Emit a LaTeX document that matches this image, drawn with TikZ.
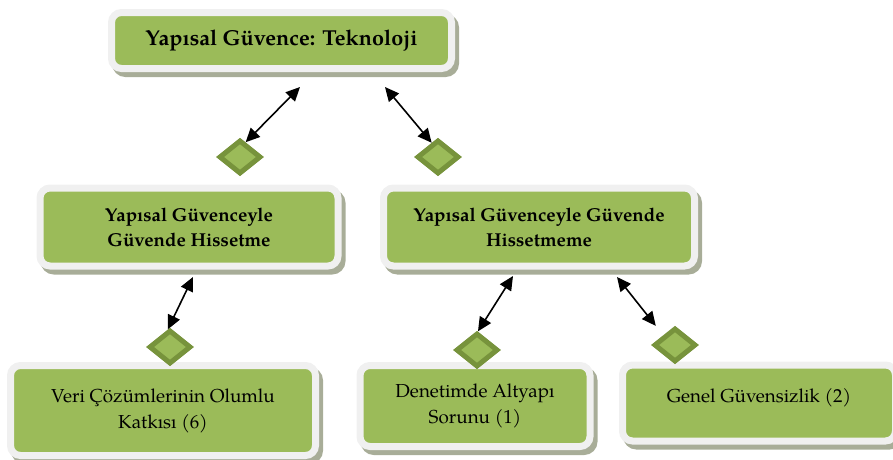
\documentclass[tikz,border=0pt]{standalone}
\usepackage{fontspec}
\setmainfont{texgyrepagella}[Extension=.otf,UprightFont=*-regular,BoldFont=*-bold,ItalicFont=*-italic,BoldItalicFont=*-bolditalic]
\usetikzlibrary{shapes.geometric,arrows.meta}
\definecolor{leaf}{HTML}{9BBB59}
\definecolor{leafdark}{HTML}{77933C}
\definecolor{framec}{HTML}{F0F0F0}
\definecolor{shade}{HTML}{A8AD98}
\begin{document}
\begin{tikzpicture}[x=1pt,y=-1pt,
  panel/.style={rectangle, rounded corners=10pt, fill=leaf, draw=framec,
    line width=7pt, inner sep=0pt, align=center, text=black,
    preaction={draw=shade, fill=shade, line width=7pt,
      transform canvas={xshift=4pt,yshift=-5pt}}},
  headtext/.style={font=\fontsize{21.6}{25}\selectfont\bfseries},
  midtext/.style={font=\fontsize{18.7}{25}\selectfont\bfseries},
  lowtext/.style={font=\fontsize{18.8}{26}\selectfont},
  gem/.style={diamond, fill=leaf, draw=leafdark, line width=5pt,
    minimum width=42pt, minimum height=34pt, inner sep=0pt},
  link/.style={>={Triangle[length=14pt,width=13pt]}, <->, line width=1.6pt, black}]
\useasboundingbox (0,0) rectangle (893,459);

% boxes
\node[panel, headtext, minimum width=340pt, minimum height=56pt] (top) at (281.5,40.5) {Yapısal Güvence: Teknoloji};
\node[panel, midtext, minimum width=298pt, minimum height=78pt] (ml) at (189,227) {Yapısal Güvenceyle\\Güvende Hissetme};
\node[panel, midtext, minimum width=311pt, minimum height=78pt] (mr) at (539,227) {Yapısal Güvenceyle Güvende\\Hissetmeme};
\node[panel, lowtext, minimum width=305pt, minimum height=90pt] (bl) at (163,410.5) {Veri Çözümlerinin Olumlu\\Katkısı (6)};
\node[panel, lowtext, minimum width=230pt, minimum height=81pt] (bm) at (475,406) {Denetimde Altyapı\\Sorunu (1)};
\node[panel, lowtext, text depth=15pt, minimum width=273pt, minimum height=76pt] (br) at (759,403) {Genel Güvensizlik (2)};

% diamonds
\node[gem] (d1) at (240,157) {};
\node[gem] (d2) at (438,157) {};
\node[gem] (d3) at (170,347) {};
\node[gem] (d4) at (477,350) {};
\node[gem] (d5) at (675,345) {};

% arrow ends below the boxes
\coordinate (t1) at (300,87);
\coordinate (t2) at (385,87);
\coordinate (t3) at (193,277);
\coordinate (t4) at (513,276);
\coordinate (t5) at (617,277);

% connectors
\draw[link] (d1.69) -- (t1);
\draw[link] (d2.114) -- (t2);
\draw[link] (d3.97) -- (t3);
\draw[link] (d4.87) -- (t4);
\draw[link, shorten <=12pt] (d5.north west) -- (t5);
\end{tikzpicture}
\end{document}
